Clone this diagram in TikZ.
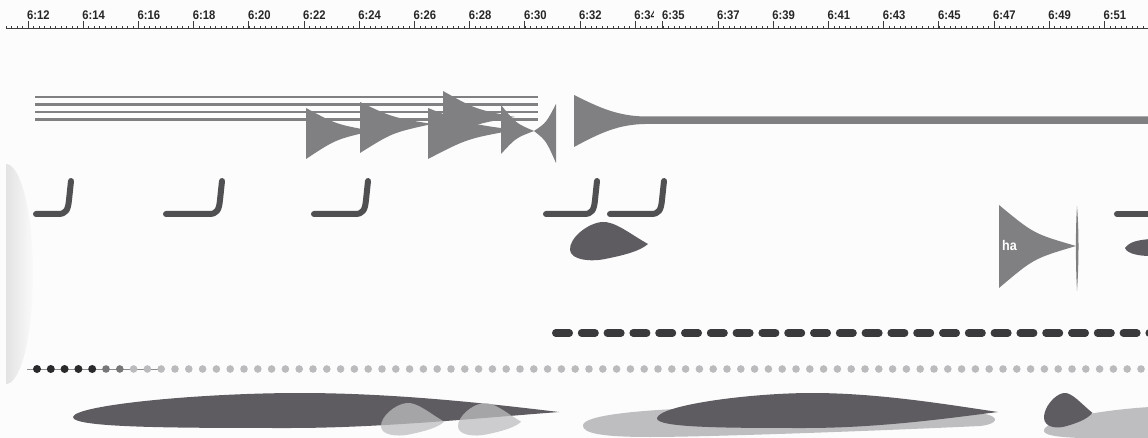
\documentclass[tikz,border=0pt]{standalone}
\usepackage{fontspec}
\newfontfamily\rulerfont[FakeStretch=0.9]{Liberation Sans}
\definecolor{bg}{HTML}{FDFCFD}
\definecolor{pinc}{HTML}{808082}
\definecolor{hookc}{HTML}{505052}
\definecolor{blobc}{HTML}{5E5C60}
\definecolor{lightc}{HTML}{BEBDC0}
\definecolor{dashc}{HTML}{3A393C}
\definecolor{dotdark}{HTML}{2A2A2C}
\definecolor{dotmid}{HTML}{777779}
\definecolor{dotlight}{HTML}{BBBBBD}
\definecolor{rulec}{HTML}{3C3C3E}
\newcommand\hpin[5]{\fill[pinc] (#1,#2) .. controls ({#1+0.45*(#4-#1)},{#2+0.7*(#5-#2)}) .. (#4,#5) .. controls ({#1+0.45*(#4-#1)},{#3-0.7*(#3-#5)}) .. (#1,#3) -- cycle;}
\newcommand\hookline[2]{\draw[hookstyle] (#1,214) -- ({#2-13},214) .. controls ({#2-5},214) and ({#2-3},210) .. ({#2-2},200) -- (#2,181);}
\newcommand\teardrop[5]{\fill[#5, shift={(#1,#2)}, xscale=#3, yscale=#4] (78,22) .. controls (60,12) and (45,-1) .. (32,0) .. controls (18,1) and (-1,16) .. (0,28) .. controls (1,38) and (20,40) .. (35,37) .. controls (55,33) and (70,29) .. (78,22) -- cycle;}
\begin{document}
\begin{tikzpicture}[x=1pt,y=-1pt,
  hookstyle/.style={hookc, line width=6pt, line cap=round, line join=round},
  staff/.style={pinc, line width=2.4pt},
  lbl/.style={anchor=base west, inner sep=0pt, font=\rulerfont\bfseries\fontsize{12.5}{12.5}\selectfont, text=black!85}]
\clip (0,0) rectangle (1148,438);
\fill[bg] (0,0) rectangle (1148,438);
% left gradient half ellipse
\begin{scope}
\clip (6,150) rectangle (60,400);
\shade[left color=black!20, right color=black!2] (6,274) ellipse (27pt and 110pt);
\end{scope}
% ruler
\draw[rulec, line width=0.9pt] (6,28.3) -- (1148,28.3);
\foreach \i in {0,...,206} \draw[rulec, line width=0.6pt] ({5.95+5.52*\i},26.3) -- ({5.95+5.52*\i},28.3);
\foreach \k/\t in {0/6:12,1/6:14,2/6:16,3/6:18,4/6:20,5/6:22,6/6:24,7/6:26,8/6:28,9/6:30,10/6:32} {
  \draw[rulec, line width=0.7pt] ({28+55.2*\k},21.3) -- ({28+55.2*\k},28.3);
  \node[lbl] at ({27+55.2*\k},19.5) {\t};
}
\draw[rulec, line width=0.7pt] (635.2,21.3) -- (635.2,28.3);
\begin{scope}
\clip (630,0) rectangle (653.5,25);
\node[lbl] at (634.2,19.5) {6:34};
\end{scope}
\foreach \k/\t in {0/6:35,1/6:37,2/6:39,3/6:41,4/6:43,5/6:45,6/6:47,7/6:49,8/6:51} {
  \draw[rulec, line width=0.7pt] ({662.8+55.2*\k},21.3) -- ({662.8+55.2*\k},28.3);
  \node[lbl] at ({661.8+55.2*\k},19.5) {\t};
}
% staff lines
\foreach \y in {97,104.5,112,119.5} \draw[staff] (35,\y) -- (538,\y);
% hairpins cluster
\hpin{306}{108}{159}{372}{131}
\hpin{360}{102}{153}{432}{124}
\hpin{428}{108}{159}{515}{130}
\hpin{443}{91}{140}{515}{117}
\hpin{501}{105}{154}{534}{131}
\hpin{556}{104}{163}{534}{131}
% big hairpin with line
\fill[pinc] (574,95) .. controls (600,108) and (618,116) .. (645,116.5) -- (1148,116.5) -- (1148,124) -- (645,124) .. controls (618,124.5) and (600,133) .. (574,147) -- cycle;
% hooks
\hookline{36}{71}
\hookline{166}{222}
\hookline{314}{368}
\hookline{546}{597}
\hookline{610}{664}
\draw[hookstyle] (1117,214) -- (1160,214);
% blob under hooks
\teardrop{570}{222}{1}{1}{blobc}
% ha hairpin
\hpin{999}{205}{288}{1076}{246}
\fill[pinc] (1077,206) .. controls (1079,230) and (1079,262) .. (1077,291) .. controls (1075.5,262) and (1075.5,230) .. (1077,206) -- cycle;
\node[anchor=base west, inner sep=0pt, text=white, font=\rulerfont\bfseries\fontsize{14}{14}\selectfont] at (1002,251) {ha};
% small blob at right edge
\fill[blobc] (1125,248) .. controls (1130,241) and (1140,240) .. (1150,239) -- (1150,256) .. controls (1140,256) and (1127,254) .. (1125,248) -- cycle;
% dashed line
\draw[dashc, line width=7.5pt, line cap=round, dash pattern=on 13.5pt off 12.3pt] (555.75,333) -- (1170,333);
% dotted line
\draw[black!45, line width=0.6pt] (27,369) -- (160,369);
\foreach \i in {0,...,4} \fill[dotdark] ({37+13.8*\i},369) circle (4pt);
\foreach \i in {5,6} \fill[dotmid] ({37+13.8*\i},369) circle (3.8pt);
\foreach \i in {7,...,81} \fill[dotlight] ({37+13.8*\i},369) circle (3.8pt);
% bottom shapes
\fill[lightc] (583,425) .. controls (585,415) and (640,410) .. (700,408) -- (985,414) .. controls (1000,417) and (998,424) .. (980,426) .. controls (850,432) and (700,437) .. (650,437) .. controls (600,437) and (582,433) .. (583,425) -- cycle;
\fill[lightc] (1044,430) .. controls (1046,420) and (1100,410) .. (1150,407) -- (1150,438) -- (1080,438) .. controls (1055,437) and (1043,435) .. (1044,430) -- cycle;
\fill[blobc] (73,417) .. controls (75,405) and (200,393) .. (300,393) .. controls (400,393) and (500,405) .. (559,412) .. controls (480,418) and (380,428) .. (290,428) .. controls (180,428) and (72,428) .. (73,417) -- cycle;
\fill[blobc] (657,418) .. controls (660,405) and (750,393) .. (812,393) .. controls (880,393) and (950,405) .. (998,412) .. controls (950,418) and (880,428) .. (805,428) .. controls (730,428) and (655,428) .. (657,418) -- cycle;
\teardrop{1044}{393}{0.62}{0.9}{blobc}
\teardrop{381}{403}{0.81}{0.85}{lightc, opacity=0.75}
\teardrop{458}{403}{0.81}{0.85}{lightc, opacity=0.75}
\end{tikzpicture}
\end{document}
